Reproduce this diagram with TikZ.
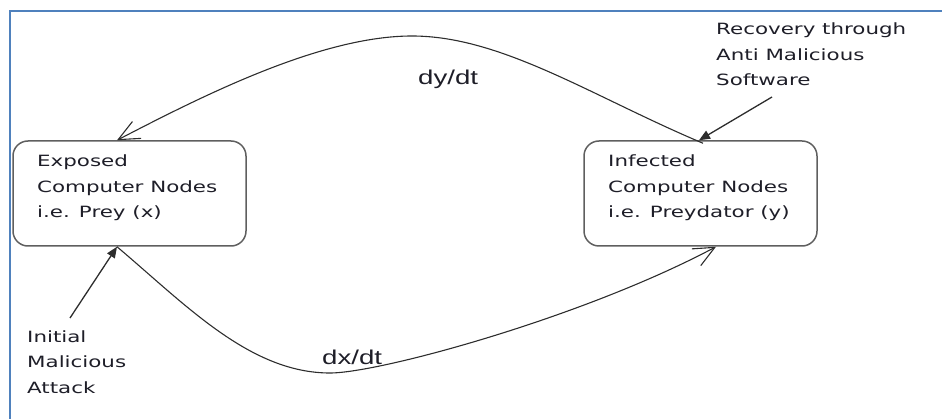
\documentclass[tikz,border=0pt]{standalone}
\usepackage{fontspec}
\usetikzlibrary{arrows.meta,calc}
\newfontfamily\labelfont[FakeStretch=1.38]{DejaVu Sans}
\newfontfamily\ratefont[FakeStretch=1.38]{Liberation Sans}
\definecolor{framebl}{RGB}{79,129,189}
\definecolor{edgegray}{RGB}{95,95,95}
\definecolor{inkline}{RGB}{45,45,45}
\definecolor{inktext}{RGB}{30,30,40}

\begin{document}
\begin{tikzpicture}[x=1pt,y=-1pt,
  statebox/.style={draw=edgegray, line width=1.5pt, rounded corners=15pt,
    minimum width=233pt, minimum height=105pt, inner sep=0pt},
  % multi-line labels are placed by the baseline of their last line
  boxtext/.style={font=\labelfont\fontsize{15.5}{25.5}\selectfont, align=left,
    inner sep=0pt, anchor=base west, text=inktext},
  ratetext/.style={font=\ratefont\fontsize{20}{24}\selectfont,
    inner sep=0pt, anchor=base west, text=inktext},
  flow/.style={draw=inkline, line width=1.1pt,
    -{Straight Barb[length=21pt,width=19pt,line width=1.1pt]}},
  cause/.style={draw=inkline, line width=1.3pt,
    -{Triangle[length=11pt,width=9pt]}}
]
\useasboundingbox (0,0) rectangle (942,419);

% page frame
\draw[framebl, line width=2pt] (10,419) -- (10,11) -- (942,11);

% the two populations
\node[statebox] (exp) at (129.5,193.5) {};
\node[statebox] (inf) at (700.5,193.5) {};
\node[boxtext] (expt) at (37,218) {Exposed\\Computer Nodes\\i.e. Prey (x)};
\node[boxtext] (inft) at (608,218) {Infected\\Computer Nodes\\i.e. Preydator (y)};

% external influences
\node[boxtext] (rec) at (716,86) {Recovery through\\Anti Malicious\\Software};
\node[boxtext] (att) at (27,393) {Initial\\Malicious\\Attack};

% rate labels
\node[ratetext] (dy) at (418,85) {dy/dt};
\node[ratetext] (dx) at (322,365) {dx/dt};

% rates of change between the populations
\draw[flow] ($(inf.north)+(2.5,3)$) .. controls (593,97) and (502,36) .. (412,36)
  .. controls (322,36) and (206,94) .. ($(exp.north)+(-12.5,0)$);
\draw[flow] ($(exp.south)+(-12.5,0)$) .. controls (186,305) and (250,373) .. (330,373)
  .. controls (380,373) and (584,317) .. ($(inf.south)+(15.5,0)$);

% influence arrows
\coordinate (recfoot) at (772,97);
\coordinate (attfoot) at (70,318);
\draw[cause] (recfoot) -- ($(inf.north)+(-1.5,0)$);
\draw[cause] (attfoot) -- ($(exp.south)+(-12.5,0)$);
\end{tikzpicture}
\end{document}
